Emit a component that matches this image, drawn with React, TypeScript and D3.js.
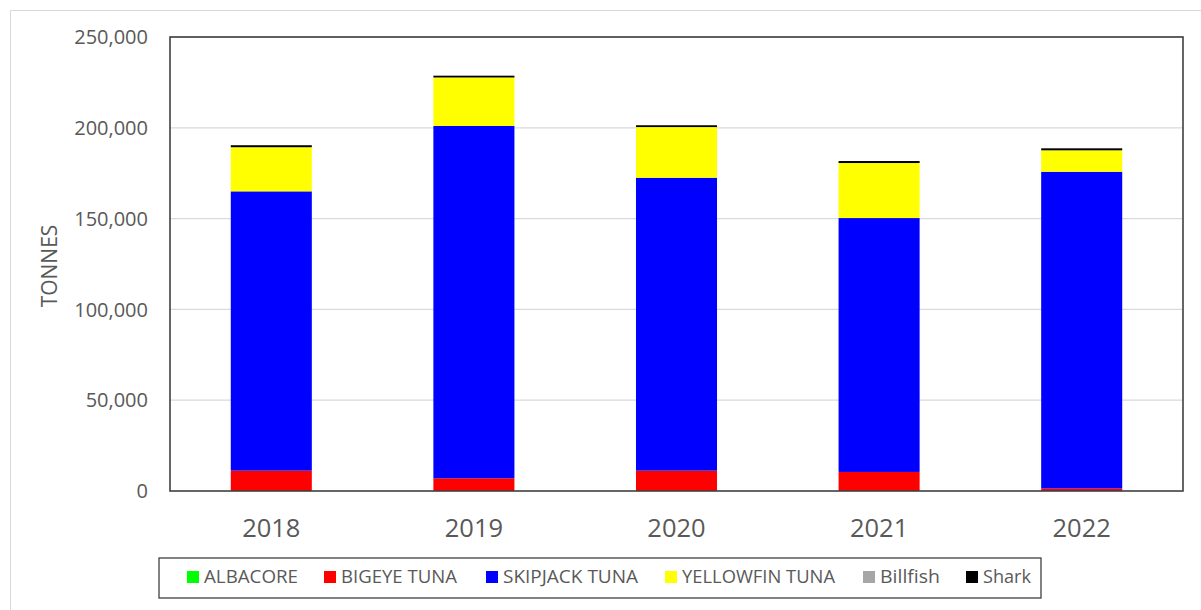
import React from "react";
import * as d3 from "d3";

const years = ["2018", "2019", "2020", "2021", "2022"];
const seriesNames = ["ALBACORE", "BIGEYE TUNA", "SKIPJACK TUNA", "YELLOWFIN TUNA", "Billfish", "Shark"];
const albacore = [0, 0, 0, 0, 0];
const bigeye = [11200, 7000, 11200, 10500, 1400];
const skipjack = [153800, 194000, 161300, 139800, 174400];
const yellowfin = [24300, 26700, 27900, 30300, 11800];
const billfish = [0, 0, 0, 0, 0];
const shark = [1100, 1000, 1000, 1100, 1100];
const yTicks = [0, 50000, 100000, 150000, 200000, 250000];

const colors = ["#00ff00", "#ff0000", "#0000ff", "#ffff00", "#a6a6a6", "#000000"];
const legendX = [187, 324, 486, 665, 863, 966];
const legendTextW = [94, 116, 135, 153, 60, 48];

export default function App() {
  const W = 1201, H = 610;
  const m = { left: 170, right: 1183, top: 37, bottom: 491 };
  const x = d3.scaleBand<string>().domain(years).range([m.left, m.right]).paddingInner(0.6).paddingOuter(0.3);
  const y = d3.scaleLinear().domain([0, 250000]).range([m.bottom, m.top]);
  const all = [albacore, bigeye, skipjack, yellowfin, billfish, shark];
  const rows = years.map((yr, i) => {
    const r: any = { year: yr };
    seriesNames.forEach((s, k) => (r[s] = all[k][i]));
    return r;
  });
  const stacked = d3.stack<any>().keys(seriesNames)(rows);
  const fmt = d3.format(",");
  const font = "'Open Sans', 'Segoe UI', sans-serif";
  const grey = "#595959";
  return (
    <svg width={W} height={H} style={{ position: "fixed", left: 0, top: 0, background: "#fff" }}>
      <rect x={10.5} y={10.5} width={1300} height={700} fill="#fff" stroke="#d9d9d9" strokeWidth={1} />
      {yTicks.slice(1).map((t) => (
        <line key={t} x1={m.left} x2={m.right} y1={y(t)} y2={y(t)} stroke="#d9d9d9" strokeWidth={1.3} />
      ))}
      {stacked.map((layer, k) => (
        <g key={layer.key} fill={colors[k]}>
          {layer.map((d, i) =>
            d[1] - d[0] > 0 ? (
              <rect key={i} x={x(years[i])} width={x.bandwidth()} y={y(d[1])} height={y(d[0]) - y(d[1])} />
            ) : null
          )}
        </g>
      ))}
      <rect x={m.left} y={m.top} width={m.right - m.left} height={m.bottom - m.top} fill="none" stroke="#404040" strokeWidth={1.6} />
      {yTicks.map((t) => (
        <text key={t} x={m.left - 22} y={y(t)} dy="0.36em" textAnchor="end" fontFamily={font} fontSize={20} fill={grey}>
          {fmt(t)}
        </text>
      ))}
      {years.map((yr) => (
        <text key={yr} x={(x(yr) as number) + x.bandwidth() / 2} y={537} textAnchor="middle" fontFamily={font} fontSize={25.5} fill={grey}>
          {yr}
        </text>
      ))}
      <text transform={`translate(57,${(m.top + m.bottom) / 2 + 2}) rotate(-90)`} textAnchor="middle" fontFamily={font} fontSize={21} fill={grey}>
        TONNES
      </text>
      <rect x={159} y={558} width={882} height={40} fill="#fff" stroke="#404040" strokeWidth={1.3} />
      {seriesNames.map((s, k) => (
        <g key={s}>
          <rect x={legendX[k]} y={571} width={12} height={12} fill={colors[k]} />
          <text x={legendX[k] + 17} y={583} fontFamily={font} fontSize={18} fill={grey} textLength={legendTextW[k]} lengthAdjust="spacingAndGlyphs">
            {s}
          </text>
        </g>
      ))}
    </svg>
  );
}
